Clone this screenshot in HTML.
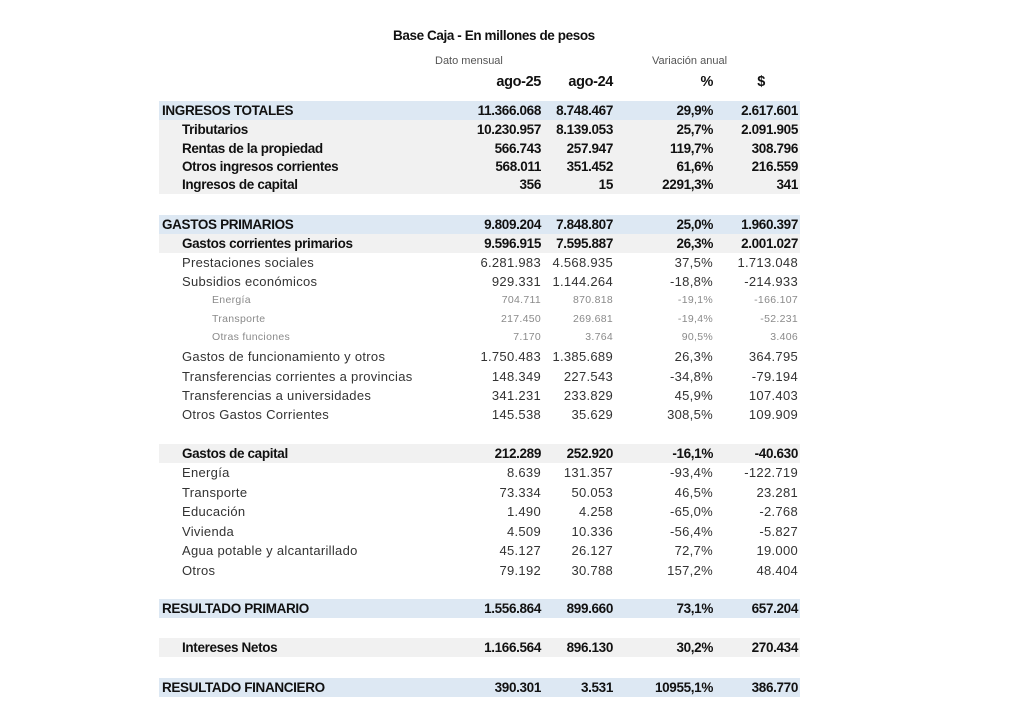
<!DOCTYPE html>
<html><head><meta charset="utf-8"><style>
body{margin:0;width:1024px;height:720px;background:#fff;position:relative;font-family:"Liberation Sans",sans-serif;color:#111;overflow:hidden}
.r{position:absolute;left:159px;width:641px;height:19px;line-height:19px;font-size:13px}
.r span{position:absolute;white-space:nowrap}
.l{left:3px}.i{left:23px}.s{left:53px}
.a{right:259px}.b{right:187px}.c{right:87px}.d{right:2px}
.B{font-weight:bold;font-size:13.5px;letter-spacing:-0.35px}
.N{color:#333;letter-spacing:0.3px}
.G{color:#8a8a8a;font-size:10.5px;letter-spacing:0.3px}
.blue{background:#dde8f3}.gray{background:#f1f1f1}
.t{position:absolute;white-space:nowrap}
</style></head><body>
<div class="t" style="left:393px;top:28px;font-size:13.5px;font-weight:bold;letter-spacing:-0.4px">Base Caja - En millones de pesos</div>
<div class="t" style="left:435px;top:55px;font-size:11px;color:#555">Dato mensual</div>
<div class="t" style="left:652px;top:55px;font-size:11px;color:#555">Variación anual</div>
<div class="r B" style="top:73px;font-size:14.5px"><span class="a">ago-25</span><span class="b">ago-24</span><span class="c">%</span><span class="d" style="right:35px">$</span></div>

<div class="r B blue" style="top:101px"><span class="l">INGRESOS TOTALES</span><span class="a">11.366.068</span><span class="b">8.748.467</span><span class="c">29,9%</span><span class="d">2.617.601</span></div>
<div class="r B gray" style="top:120px"><span class="i">Tributarios</span><span class="a">10.230.957</span><span class="b">8.139.053</span><span class="c">25,7%</span><span class="d">2.091.905</span></div>
<div class="r B gray" style="top:139px"><span class="i">Rentas de la propiedad</span><span class="a">566.743</span><span class="b">257.947</span><span class="c">119,7%</span><span class="d">308.796</span></div>
<div class="r B gray" style="top:157px"><span class="i">Otros ingresos corrientes</span><span class="a">568.011</span><span class="b">351.452</span><span class="c">61,6%</span><span class="d">216.559</span></div>
<div class="r B gray" style="top:175px"><span class="i">Ingresos de capital</span><span class="a">356</span><span class="b">15</span><span class="c">2291,3%</span><span class="d">341</span></div>

<div class="r B blue" style="top:215px"><span class="l">GASTOS PRIMARIOS</span><span class="a">9.809.204</span><span class="b">7.848.807</span><span class="c">25,0%</span><span class="d">1.960.397</span></div>
<div class="r B gray" style="top:234px"><span class="i">Gastos corrientes primarios</span><span class="a">9.596.915</span><span class="b">7.595.887</span><span class="c">26,3%</span><span class="d">2.001.027</span></div>
<div class="r N" style="top:253px"><span class="i">Prestaciones sociales</span><span class="a">6.281.983</span><span class="b">4.568.935</span><span class="c">37,5%</span><span class="d">1.713.048</span></div>
<div class="r N" style="top:272px"><span class="i">Subsidios económicos</span><span class="a">929.331</span><span class="b">1.144.264</span><span class="c">-18,8%</span><span class="d">-214.933</span></div>
<div class="r G" style="top:291px"><span class="s">Energía</span><span class="a">704.711</span><span class="b">870.818</span><span class="c">-19,1%</span><span class="d">-166.107</span></div>
<div class="r G" style="top:310px"><span class="s">Transporte</span><span class="a">217.450</span><span class="b">269.681</span><span class="c">-19,4%</span><span class="d">-52.231</span></div>
<div class="r G" style="top:328px"><span class="s">Otras funciones</span><span class="a">7.170</span><span class="b">3.764</span><span class="c">90,5%</span><span class="d">3.406</span></div>
<div class="r N" style="top:347px"><span class="i">Gastos de funcionamiento y otros</span><span class="a">1.750.483</span><span class="b">1.385.689</span><span class="c">26,3%</span><span class="d">364.795</span></div>
<div class="r N" style="top:367px"><span class="i">Transferencias corrientes a provincias</span><span class="a">148.349</span><span class="b">227.543</span><span class="c">-34,8%</span><span class="d">-79.194</span></div>
<div class="r N" style="top:386px"><span class="i">Transferencias a universidades</span><span class="a">341.231</span><span class="b">233.829</span><span class="c">45,9%</span><span class="d">107.403</span></div>
<div class="r N" style="top:405px"><span class="i">Otros Gastos Corrientes</span><span class="a">145.538</span><span class="b">35.629</span><span class="c">308,5%</span><span class="d">109.909</span></div>

<div class="r B gray" style="top:444px"><span class="i">Gastos de capital</span><span class="a">212.289</span><span class="b">252.920</span><span class="c">-16,1%</span><span class="d">-40.630</span></div>
<div class="r N" style="top:463px"><span class="i">Energía</span><span class="a">8.639</span><span class="b">131.357</span><span class="c">-93,4%</span><span class="d">-122.719</span></div>
<div class="r N" style="top:483px"><span class="i">Transporte</span><span class="a">73.334</span><span class="b">50.053</span><span class="c">46,5%</span><span class="d">23.281</span></div>
<div class="r N" style="top:502px"><span class="i">Educación</span><span class="a">1.490</span><span class="b">4.258</span><span class="c">-65,0%</span><span class="d">-2.768</span></div>
<div class="r N" style="top:522px"><span class="i">Vivienda</span><span class="a">4.509</span><span class="b">10.336</span><span class="c">-56,4%</span><span class="d">-5.827</span></div>
<div class="r N" style="top:541px"><span class="i">Agua potable y alcantarillado</span><span class="a">45.127</span><span class="b">26.127</span><span class="c">72,7%</span><span class="d">19.000</span></div>
<div class="r N" style="top:561px"><span class="i">Otros</span><span class="a">79.192</span><span class="b">30.788</span><span class="c">157,2%</span><span class="d">48.404</span></div>

<div class="r B blue" style="top:599px"><span class="l">RESULTADO PRIMARIO</span><span class="a">1.556.864</span><span class="b">899.660</span><span class="c">73,1%</span><span class="d">657.204</span></div>
<div class="r B gray" style="top:638px"><span class="i">Intereses Netos</span><span class="a">1.166.564</span><span class="b">896.130</span><span class="c">30,2%</span><span class="d">270.434</span></div>
<div class="r B blue" style="top:678px"><span class="l">RESULTADO FINANCIERO</span><span class="a">390.301</span><span class="b">3.531</span><span class="c">10955,1%</span><span class="d">386.770</span></div>
</body></html>
